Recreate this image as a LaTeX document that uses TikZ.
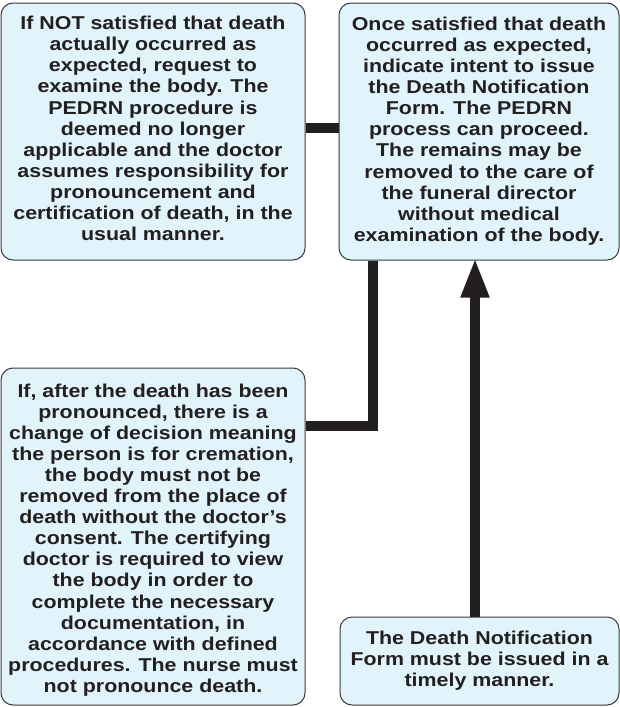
\documentclass[tikz,border=0pt]{standalone}
\usepackage{fontspec}
\setmainfont{Liberation Sans}[FakeStretch=1.15]
\usetikzlibrary{arrows.meta}
\definecolor{boxfill}{HTML}{E1F3FB}
\definecolor{ink}{HTML}{231F20}
\definecolor{edge}{HTML}{3A3A3A}
\tikzset{
  box/.style={draw=edge, line width=1pt, fill=boxfill, rounded corners=12pt, inner sep=0pt},
  txt/.style={inner sep=0pt, align=center, text=ink, anchor=north,
    font={\fontsize{18.6}{21.1}\selectfont\bfseries}},
  conn/.style={draw=ink, line width=10pt},
  arr/.style={draw=ink, line width=10pt, -{Triangle[width=26pt,length=40pt]}}
}
\begin{document}
\begin{tikzpicture}[x=1pt,y=-1pt]
\useasboundingbox (0,0) rectangle (620,707);
\node[box, minimum width=304pt, minimum height=257pt] (A) at (153,131.5) {};
\node[txt] (At) at (153,16)
  {If NOT satisfied that death\\actually occurred as\\expected, request to\\examine the body. The\\PEDRN procedure is\\deemed no longer\\applicable and the doctor\\assumes responsibility for\\pronouncement and\\certification of death, in the\\usual manner.};
\node[box, minimum width=280pt, minimum height=257pt] (B) at (479,131.5) {};
\node[txt] (Bt) at (479,16.7)
  {Once satisfied that death\\occurred as expected,\\indicate intent to issue\\the Death Notification\\Form. The PEDRN\\process can proceed.\\The remains may be\\removed to the care of\\the funeral director\\without medical\\examination of the body.};
\node[box, minimum width=304pt, minimum height=337pt] (C) at (153,536.5) {};
\node[txt] (Ct) at (153,383.4)
  {If, after the death has been\\pronounced, there is a\\change of decision meaning\\the person is for cremation,\\the body must not be\\removed from the place of\\death without the doctor’s\\consent. The certifying\\doctor is required to view\\the body in order to\\complete the necessary\\documentation, in\\accordance with defined\\procedures. The nurse must\\not pronounce death.};
\node[box, minimum width=279pt, minimum height=88pt] (D) at (479.5,661) {};
\node[txt] (Dt) at (479.5,631)
  {The Death Notification\\Form must be issued in a\\timely manner.};
\coordinate (ab) at (0,128);
\coordinate (bx) at (373,0);
\coordinate (cy) at (0,426);
\coordinate (ax) at (475,0);
\draw[conn] (A.east |- ab) -- (B.west |- ab);
\draw[conn] (B.south -| bx) |- (C.east |- cy);
\draw[arr] (D.north -| ax) -- ([yshift=3pt]B.south -| ax);
\end{tikzpicture}
\end{document}
